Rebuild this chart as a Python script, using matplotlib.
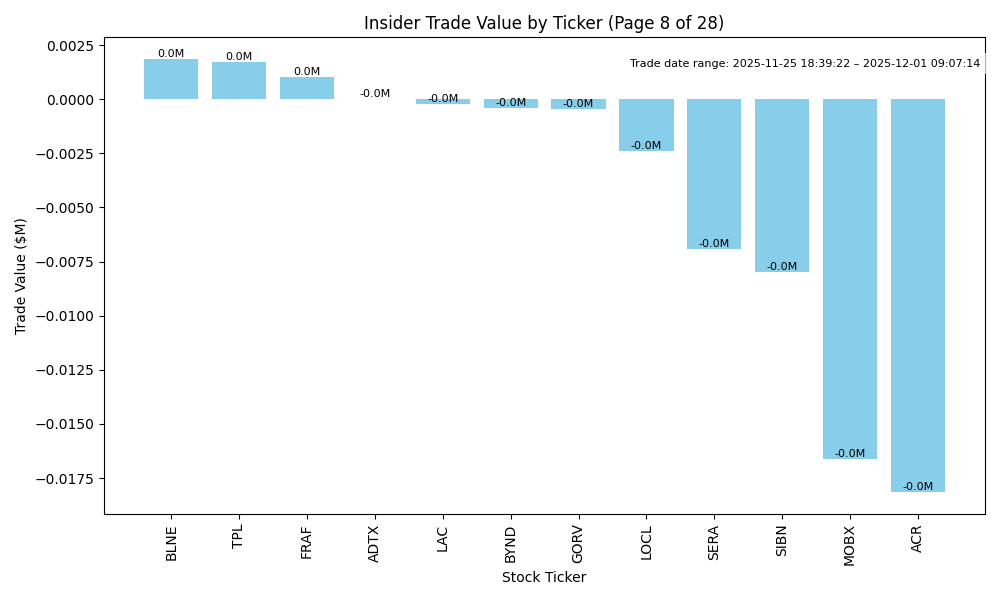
import matplotlib

matplotlib.use("Agg")
import matplotlib.pyplot as plt  # noqa: E402

TICKERS = ["BLNE", "TPL", "FRAF", "ADTX", "LAC", "BYND", "GORV", "LOCL",
           "SERA", "SIBN", "MOBX", "ACR"]
# trade value in $M
VALUES = [0.00186, 0.00172, 0.00102, -0.000005, -0.00023, -0.00042, -0.00046,
          -0.00237, -0.00692, -0.00798, -0.01662, -0.01815]
DATE_RANGE = "Trade date range: 2025-11-25 18:39:22 \u2013 2025-12-01 09:07:14"
PAGE, PAGES = 8, 28


def main() -> None:
    fig, ax = plt.subplots(figsize=(10, 6), dpi=100)
    bars = ax.bar(TICKERS, VALUES, color="skyblue")
    for bar, val in zip(bars, VALUES):
        ax.text(bar.get_x() + bar.get_width() / 2, val, f"{val:.1f}M",
                ha="center", va="bottom", fontsize=8)
    ax.set_title(f"Insider Trade Value by Ticker (Page {PAGE} of {PAGES})")
    ax.set_xlabel("Stock Ticker")
    ax.set_ylabel("Trade Value ($M)")
    ax.tick_params(axis="x", rotation=90)
    ax.text(0.995, 0.955, DATE_RANGE, transform=ax.transAxes, ha="right",
            va="top", fontsize=8,
            bbox=dict(facecolor="white", edgecolor="none", alpha=0.7))
    fig.tight_layout()
    fig.savefig("out.png")
    plt.close(fig)


if __name__ == "__main__":
    main()
